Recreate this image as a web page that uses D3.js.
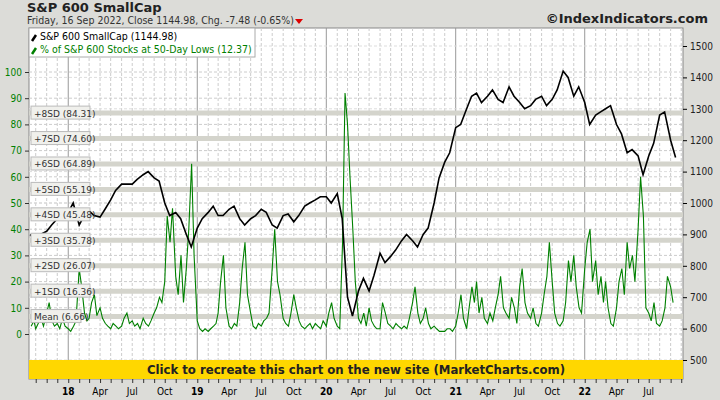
<!DOCTYPE html><html><head><meta charset="utf-8">
<script src="https://cdn.jsdelivr.net/npm/d3@7"></script>
<style>body{margin:0;background:#dcdcd8;}svg{font-family:"DejaVu Sans",sans-serif;}</style></head><body>
<svg id="c" width="720" height="400"></svg>
<script>
const title="S&P 600 SmallCap";
const subtitle="Friday, 16 Sep 2022, Close 1144.98, Chg. -7.48 (-0.65%)";
const legendLabels=["S&P 600 SmallCap (1144.98)","% of S&P 600 Stocks at 50-Day Lows (12.37)"];
const sdLevels=[6.66,16.36,26.07,35.78,45.48,55.19,64.89,74.60,84.31];
const sdNames=["Mean","+1SD","+2SD","+3SD","+4SD","+5SD","+6SD","+7SD","+8SD"];
const leftTicks=[0,10,20,30,40,50,60,70,80,90,100];
const rightTicks=[500,600,700,800,900,1000,1100,1200,1300,1400,1500];
// breadth values, 4 per month from Oct 2017 (2 in late Sep 2017)
const pctLows=[3,5,
2,4,6,3, 8,12,5,3, 4,2,6,3, 2,1,3,5, 25,18,8,5, 6,12,15,7, 10,6,4,3, 2,4,3,2, 3,6,8,4, 5,3,4,2, 6,4,3,5, 8,10,14,12,
20,45,35,48, 22,15,30,12, 25,40,65,30, 5,2,1,2, 1,2,3,4, 8,20,30,10, 3,2,4,3, 12,25,35,15, 8,3,2,4, 3,5,6,8,
25,40,20,15, 6,4,3,8, 15,10,5,3, 2,3,4,2, 4,3,2,5, 3,8,12,6, 3,2,35,92, 80,60,40,20, 6,4,8,3, 10,5,3,2,
2,12,8,4, 3,2,4,3, 2,3,2,6, 12,18,8,4, 6,10,4,2, 3,2,1,1, 1,2,2,1, 3,8,15,6, 2,10,18,12, 20,8,14,6,
4,8,5,10, 15,22,10,8, 6,14,10,4, 18,25,12,8, 6,10,4,3, 8,15,22,35, 20,8,4,3, 5,12,28,20, 30,18,10,8,
25,35,40,20, 28,15,22,12, 20,10,4,3, 10,20,25,15, 35,25,30,20, 40,60,45,10, 8,5,12,4, 3,5,10,22, 18,12];
// index closes: 15 Sep 2017, then 1st and 15th of each month
const price=[900,
880,900, 910,930, 950,950, 970,1000, 930,960, 975,960, 955,980, 1010,1040, 1060,1060, 1060,1075, 1090,1100, 1080,1070,
1000,960, 970,950, 900,860, 920,950, 970,990, 960,960, 980,990, 950,930, 950,960, 980,970, 930,920, 960,965,
940,960, 990,1000, 1010,1020, 1020,1000, 1030,950, 700,640, 720,760, 720,770, 840,810, 830,850, 880,900, 880,860,
900,920, 1000,1080, 1130,1160, 1240,1250, 1300,1340, 1350,1320, 1340,1360, 1330,1320, 1370,1340, 1320,1300, 1310,1330, 1340,1310,
1330,1360, 1420,1400, 1340,1370, 1320,1250, 1280,1290, 1300,1310, 1250,1220, 1160,1170, 1150,1090, 1150,1190, 1280,1290, 1200,1145];

const svg=d3.select("#c");
const L=29,R=683,T=28,B=379;
const x=d3.scaleTime().domain([new Date(2017,8,12),new Date(2022,9,6)]).range([L,R]);
const yL=d3.scaleLinear().domain([0,100]).range([334,72]);
const yR=d3.scaleLinear().domain([500,1500]).range([360,46]);
const pctDates=pctLows.map((d,i)=>{
  if(i<2) return new Date(2017,8,18+i*8);
  const k=i-2; return new Date(2017,9+Math.floor(k/4),1+(k%4)*7.5);
});
const priceDates=price.map((d,i)=>{
  if(i===0) return new Date(2017,8,15);
  const k=i-1; return new Date(2017,9+Math.floor(k/2),k%2===0?1:15);
});

svg.append("rect").attr("x",L).attr("y",T).attr("width",R-L).attr("height",B-T).attr("fill","#fff").attr("stroke","#888");
const months=d3.timeMonth.range(new Date(2017,9,1),new Date(2022,9,6));
svg.append("g").selectAll("line").data(months).join("line").attr("x1",d=>x(d)).attr("x2",d=>x(d)).attr("y1",T).attr("y2",B)
 .attr("stroke",d=>d.getMonth()===0?"#999":"#ccc").attr("stroke-dasharray",d=>d.getMonth()===0?null:"3,2");
svg.append("g").selectAll("line").data(leftTicks).join("line").attr("x1",L).attr("x2",R).attr("y1",d=>yL(d)).attr("y2",d=>yL(d))
 .attr("stroke","#ccc").attr("stroke-dasharray","3,2");
svg.append("g").selectAll("line").data(rightTicks).join("line").attr("x1",L).attr("x2",R).attr("y1",d=>yR(d)).attr("y2",d=>yR(d))
 .attr("stroke","#ddd").attr("stroke-dasharray","3,2");
svg.append("g").selectAll("line").data(sdLevels).join("line").attr("x1",L).attr("x2",R).attr("y1",d=>yL(d)).attr("y2",d=>yL(d))
 .attr("stroke","#d4d4cc").attr("stroke-width",5);
svg.append("path").datum(pctLows).attr("fill","none").attr("stroke","#008000").attr("stroke-width",1.1)
 .attr("d",d3.line().x((d,i)=>x(pctDates[i])).y(d=>yL(d)));
svg.append("path").datum(price).attr("fill","none").attr("stroke","#000").attr("stroke-width",1.6)
 .attr("d",d3.line().x((d,i)=>x(priceDates[i])).y(d=>yR(d)));
const sg=svg.append("g").selectAll("g").data(sdLevels).join("g").attr("transform",d=>`translate(31,${yL(d)})`);
sg.append("rect").attr("x",0).attr("y",-7).attr("width",(d,i)=>sdNames[i]==="Mean"?50:59).attr("height",13).attr("fill","#f0f0ec").attr("stroke","#bbb");
sg.append("text").attr("x",3).attr("y",3.5).attr("font-size",9).attr("fill","#333").text((d,i)=>`${sdNames[i]} (${d.toFixed(2)})`);
svg.append("rect").attr("x",L).attr("y",360).attr("width",R-L).attr("height",19).attr("fill","#ffd700");
svg.append("text").attr("x",(L+R)/2).attr("y",374).attr("text-anchor","middle").attr("font-size",13).attr("font-weight","bold")
 .attr("font-family","DejaVu Sans Condensed").attr("fill","#222").text("Click to recreate this chart on the new site (MarketCharts.com)");
const gl=svg.append("g").attr("transform",`translate(${L},0)`).call(d3.axisLeft(yL).tickValues(leftTicks).tickSize(4).tickFormat(d3.format("d")));
gl.select(".domain").remove(); gl.selectAll("text").attr("fill","#008000").attr("font-size",10).attr("font-family","DejaVu Sans Condensed");
gl.selectAll("line").attr("stroke","#333");
const gr=svg.append("g").attr("transform",`translate(${R},0)`).call(d3.axisRight(yR).tickValues(rightTicks).tickSize(4).tickFormat(d3.format("d")));
gr.select(".domain").remove(); gr.selectAll("text").attr("fill","#222").attr("font-size",10).attr("font-family","DejaVu Sans Condensed");
const gx=svg.append("g").attr("transform",`translate(0,${B})`).call(d3.axisBottom(x).tickValues(months).tickSize(4).tickFormat(""));
gx.select(".domain").remove(); gx.selectAll("line").attr("stroke","#333");
const q=months.filter(d=>d.getMonth()%3===0 && d>new Date(2017,11,1) && d<new Date(2022,8,1));
svg.append("g").selectAll("text").data(q).join("text").attr("x",d=>x(d)).attr("y",395).attr("text-anchor","middle")
 .attr("font-size",10).attr("font-family","DejaVu Sans Condensed").attr("font-weight",d=>d.getMonth()===0?"bold":"normal")
 .text(d=>d.getMonth()===0?d3.timeFormat("%y")(d):d3.timeFormat("%b")(d));
svg.append("text").attr("x",27).attr("y",12).attr("font-size",13).attr("font-weight","bold").attr("fill","#222").text(title);
svg.append("text").attr("x",27).attr("y",24).attr("font-size",10.5).attr("fill","#333").attr("font-family","DejaVu Sans Condensed").text(subtitle);
svg.append("path").attr("d","M295,19 l8,0 l-4,5 z").attr("fill","#d00");
svg.append("text").attr("x",708).attr("y",23).attr("text-anchor","end").attr("font-size",13).attr("font-weight","bold").attr("fill","#222").text("©IndexIndicators.com");
svg.append("rect").attr("x",L).attr("y",T).attr("width",226).attr("height",29).attr("fill","#fff").attr("stroke","#aaa");
const lc=["#000","#008000"];
legendLabels.forEach((t,i)=>{
 svg.append("line").attr("x1",32).attr("x2",36).attr("y1",41+i*13).attr("y2",35+i*13).attr("stroke",lc[i]).attr("stroke-width",2.5);
 svg.append("text").attr("x",40).attr("y",40+i*13).attr("font-size",10.5).attr("font-family","DejaVu Sans Condensed").attr("fill",lc[i]).text(t);
});
</script></body></html>
